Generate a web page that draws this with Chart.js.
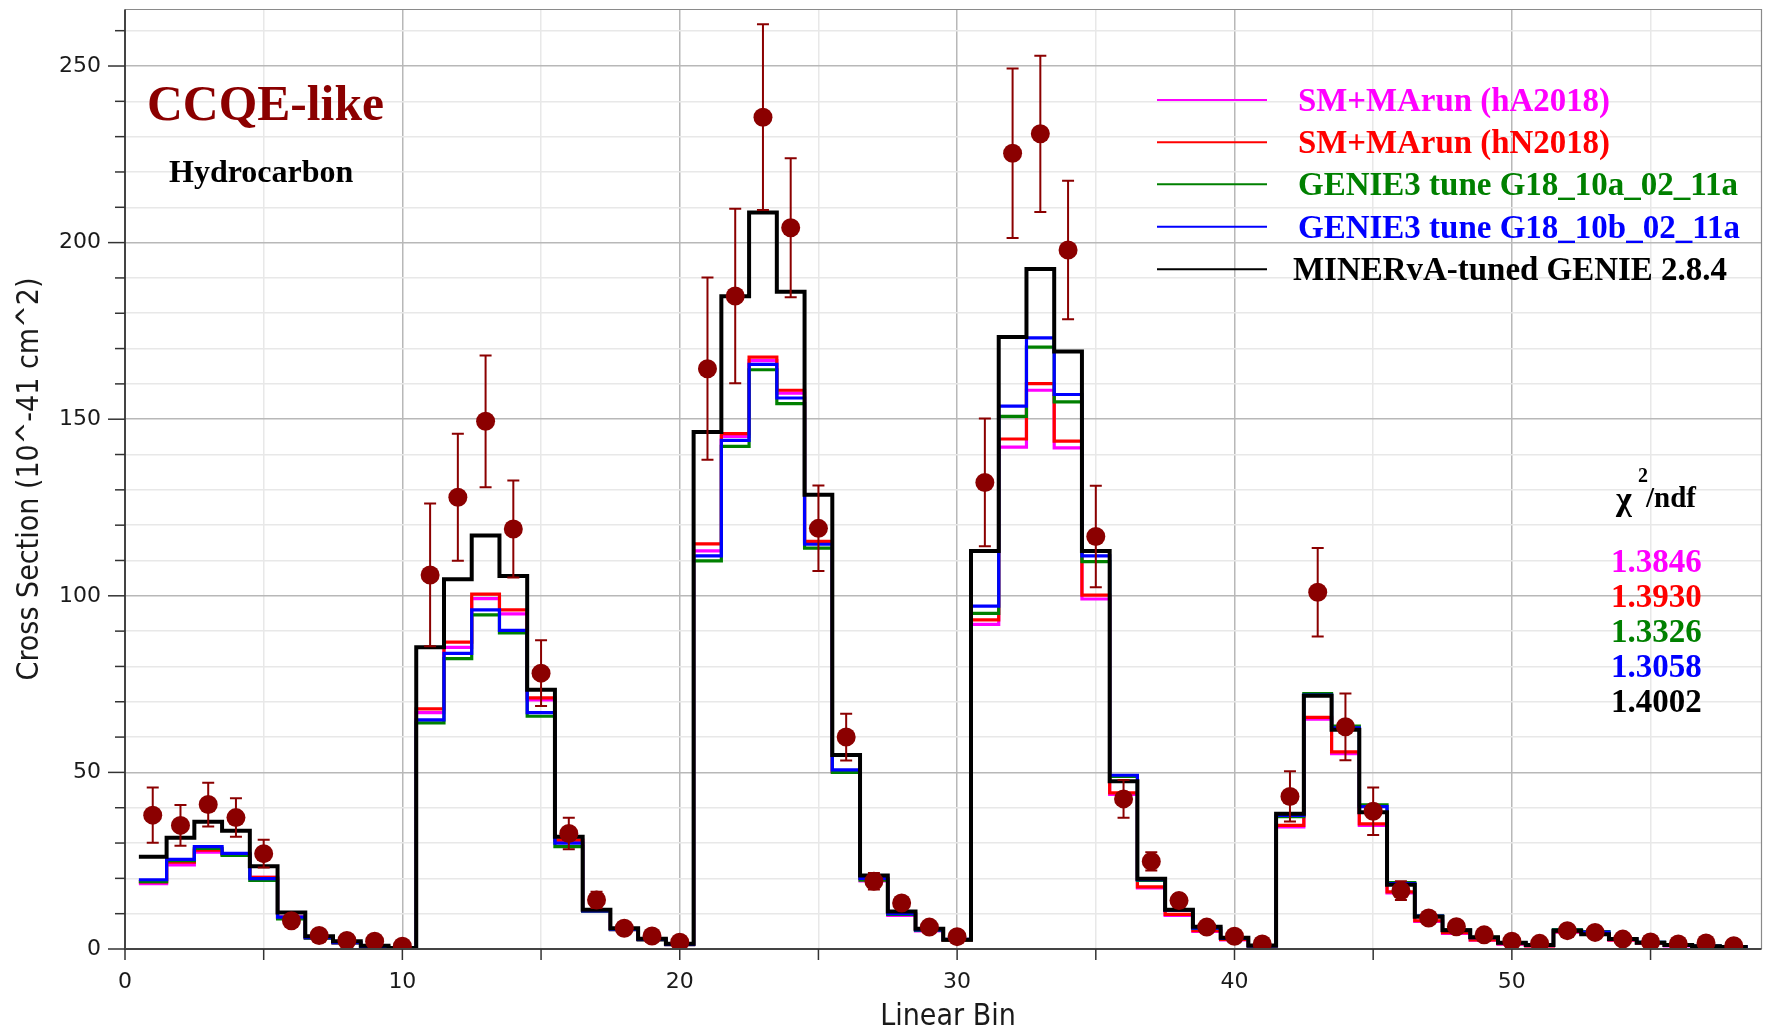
<!DOCTYPE html>
<html><head><meta charset="utf-8">
<script src="https://cdn.jsdelivr.net/npm/chart.js@4.4.0/dist/chart.umd.min.js"></script>
<style>html,body{margin:0;padding:0;background:#fff;}#wrap{width:1771px;height:1033px;position:relative;}</style>
</head><body><div id="wrap"><canvas id="c"></canvas></div>
<script>
// ---------------- DATA ----------------
const bins = [1,2,3,4,5,6,7,8,9,10,11,12,13,14,15,16,17,18,19,20,21,22,23,24,25,26,27,28,29,30,31,32,33,34,35,36,37,38,39,40,41,42,43,44,45,46,47,48,49,50,51,52,53,54,55,56,57,58];
const dataValues = [37.9,35.0,40.9,37.2,27.0,8.0,3.8,2.4,2.2,0.8,
  105.9,127.9,149.4,118.9,78.1,32.7,13.9,5.9,3.7,1.9,
  164.3,184.9,235.5,204.2,119.1,60.0,19.2,13.0,6.2,3.5,
  132.1,225.3,230.8,197.9,116.8,42.5,24.8,13.7,6.2,3.6,
  1.4,43.2,101.0,62.9,39.0,16.5,8.8,6.3,4.0,2.2,
  1.6,5.2,4.7,2.8,2.0,1.4,1.7,0.9];
const dataErrors = [7.8,5.75,6.2,5.45,3.9,1.5,0.8,0.6,0.5,0.3,
  20.2,18.0,18.65,13.75,9.3,4.45,2.3,1.0,0.7,0.5,
  25.8,24.7,26.3,19.7,12.1,6.6,2.35,1.5,1.0,0.7,
  18.1,24.0,22.1,19.6,14.35,5.35,2.6,1.8,1.0,0.7,
  0.4,7.1,12.55,9.45,6.7,2.65,1.5,1.0,0.8,0.5,
  0.4,0.8,0.7,0.5,0.4,0.3,0.3,0.2];
const smHA2018 = [18.5,23.8,27.4,26.8,20.3,9.0,3.1,1.7,0.6,0.1,
  66.9,85.4,99.2,94.9,70.5,30.8,10.7,5.5,2.6,1.2,
  112.7,145.1,166.6,157.4,115.0,50.2,19.3,9.5,5.1,2.5,
  91.9,142.1,158.2,141.9,99.1,43.8,17.3,9.5,5.0,2.6,
  0.8,34.6,65.1,55.3,35.0,15.9,7.8,4.4,2.5,1.4,
  0.9,4.8,4.3,2.5,1.6,0.9,0.7,0.5];
const smHN2018 = [19.0,24.6,28.0,26.9,20.3,9.0,3.2,1.8,0.7,0.1,
  68.0,86.9,100.5,96.0,71.1,30.8,10.8,5.6,2.7,1.3,
  114.7,145.9,167.6,158.2,115.4,50.3,20.0,10.0,5.3,2.6,
  93.2,144.4,160.1,143.8,100.2,44.2,17.6,9.8,5.2,2.7,
  0.8,35.0,65.6,55.8,35.4,16.2,8.0,4.6,2.6,1.5,
  0.9,4.9,4.4,2.6,1.7,1.0,0.7,0.5];
const g18_10a = [19.1,25.0,28.5,26.5,19.4,8.5,3.1,1.7,0.6,0.1,
  64.0,82.2,94.6,89.5,65.9,29.0,10.7,5.5,2.6,1.2,
  109.9,142.3,164.0,154.4,113.5,50.0,19.5,9.8,5.3,2.6,
  95.0,150.8,170.4,154.9,109.7,48.9,19.4,11.0,5.8,3.0,
  0.9,37.5,72.3,63.1,40.8,18.8,9.4,5.4,3.3,1.8,
  1.1,5.5,4.9,2.9,1.9,1.1,0.8,0.6];
const g18_10b = [19.6,25.4,29.0,27.1,19.9,9.0,3.2,1.8,0.7,0.1,
  64.9,83.7,96.0,90.2,66.9,30.0,10.8,5.6,2.7,1.3,
  111.3,144.0,165.5,156.0,114.6,50.7,20.0,10.0,5.4,2.7,
  97.1,153.7,173.0,157.0,111.3,49.2,19.6,11.0,5.9,3.0,
  0.9,37.8,71.9,62.6,40.3,18.5,9.3,5.3,3.2,1.8,
  1.1,5.3,4.8,2.9,1.9,1.1,0.8,0.6];
const minervaGenie = [26.1,31.5,36.0,33.5,23.4,10.3,3.6,2.2,0.9,0.3,
  85.4,104.7,117.1,105.6,73.4,31.8,11.1,5.9,2.9,1.5,
  146.4,184.8,208.5,186.1,128.6,54.9,20.8,10.6,5.7,2.6,
  112.7,173.3,192.5,169.2,112.7,47.5,19.9,11.1,6.3,3.2,
  1.0,38.3,71.7,62.1,38.7,18.2,9.1,5.3,3.3,1.8,
  1.1,5.2,4.2,2.8,1.8,1.1,0.8,0.6];
const seriesNames = ['SM+MArun (hA2018)','SM+MArun (hN2018)','GENIE3 tune G18_10a_02_11a','GENIE3 tune G18_10b_02_11a','MINERvA-tuned GENIE 2.8.4'];
const chiValues = ['1.3846','1.3930','1.3326','1.3058','1.4002'];
const xTickLabels = [0,10,20,30,40,50];
const yTickLabels = [0,50,100,150,200,250];

// ---------------- STYLE ----------------
const colors = ['#ff00ff','#ff0000','#008000','#0000ff','#000000'];
const dataColor = '#8b0000';
const serif = "'Liberation Serif','Times New Roman',serif";
const condensed = "'DejaVu Sans Condensed','Liberation Sans Narrow','DejaVu Sans',sans-serif";

function toSteps(vals){
  const pts = bins.map((b,i)=>({x:b-0.5, y:vals[i]}));
  pts.push({x:bins[bins.length-1]+0.5, y:vals[vals.length-1]});
  return pts;
}
const series = [smHA2018, smHN2018, g18_10a, g18_10b, minervaGenie];
const histSets = [];
for (let k = series.length-1; k >= 0; k--) {
  histSets.push({
    type:'line', label:seriesNames[k], data:toSteps(series[k]), stepped:'before',
    borderColor:colors[k], borderWidth:(k===4?4:3.2), pointRadius:0, fill:false,
    borderJoinStyle:'miter', borderCapStyle:'butt', tension:0
  });
}
const pointSet = {
  type:'scatter', label:'Data', data:bins.map((b,i)=>({x:b, y:dataValues[i]})),
  backgroundColor:dataColor, borderColor:dataColor, pointRadius:9.5, borderWidth:0
};

const deco = {
  id:'deco',
  beforeDatasetDraw(chart, args){
    if (args.index !== 0) return;
    const {ctx, scales:{x,y}} = chart;
    ctx.save();
    ctx.strokeStyle = dataColor; ctx.lineWidth = 2;
    bins.forEach((b,i)=>{
      const px = x.getPixelForValue(b);
      const y1 = y.getPixelForValue(dataValues[i]-dataErrors[i]);
      const y2 = y.getPixelForValue(dataValues[i]+dataErrors[i]);
      ctx.beginPath();
      ctx.moveTo(px,y1); ctx.lineTo(px,y2);
      ctx.moveTo(px-6,y1); ctx.lineTo(px+6,y1);
      ctx.moveTo(px-6,y2); ctx.lineTo(px+6,y2);
      ctx.stroke();
    });
    ctx.restore();
  },
  afterDraw(chart){
    const {ctx, chartArea:a, scales:{x,y}} = chart;
    ctx.save();
    ctx.strokeStyle = '#8a8a8a'; ctx.lineWidth = 1.2;
    ctx.beginPath(); ctx.moveTo(a.left,a.top); ctx.lineTo(a.right,a.top); ctx.lineTo(a.right,a.bottom); ctx.stroke();
    ctx.strokeStyle = '#444'; ctx.lineWidth = 2;
    ctx.beginPath(); ctx.moveTo(a.left,a.top); ctx.lineTo(a.left,a.bottom); ctx.lineTo(a.right,a.bottom); ctx.stroke();
    ctx.strokeStyle = '#333'; ctx.lineWidth = 1.5;
    y.ticks.forEach(t=>{
      const py = y.getPixelForValue(t.value);
      const len = yTickLabels.includes(t.value) ? 17 : 10;
      ctx.beginPath(); ctx.moveTo(a.left-len,py); ctx.lineTo(a.left,py); ctx.stroke();
    });
    x.ticks.forEach(t=>{
      const px = x.getPixelForValue(t.value);
      ctx.beginPath(); ctx.moveTo(px,a.bottom); ctx.lineTo(px,a.bottom+11); ctx.stroke();
    });
    ctx.fillStyle = '#1a1a1a';
    ctx.font = "30px " + condensed;
    ctx.textAlign = 'center'; ctx.textBaseline = 'middle';
    ctx.fillText('Linear Bin', 948, 1017);
    ctx.save(); ctx.translate(30, 479); ctx.rotate(-Math.PI/2);
    ctx.fillText('Cross Section (10^-41 cm^2)', 0, 0);
    ctx.restore();
    ctx.textAlign = 'left'; ctx.textBaseline = 'alphabetic';
    ctx.fillStyle = dataColor; ctx.font = "bold 51px " + serif;
    ctx.fillText('CCQE-like', 147, 120, 237);
    ctx.fillStyle = '#000'; ctx.font = "bold 32px " + serif;
    ctx.fillText('Hydrocarbon', 169, 182, 192);
    const legY = [100, 142.3, 184.3, 226.7, 269.3];
    const legW = [312, 312, 440, 442, 434];
    seriesNames.forEach((n,k)=>{
      ctx.strokeStyle = colors[k]; ctx.lineWidth = 2;
      ctx.beginPath(); ctx.moveTo(1157, legY[k]); ctx.lineTo(1267, legY[k]); ctx.stroke();
      ctx.fillStyle = colors[k]; ctx.font = "bold 33px " + serif;
      ctx.fillText(n, k===4?1293:1298, legY[k]+11, legW[k]);
    });
    ctx.fillStyle = '#000';
    ctx.font = "bold 34px " + serif; ctx.fillText('\u03c7', 1616, 510);
    ctx.font = "bold 20px " + serif; ctx.fillText('2', 1638, 482);
    ctx.font = "bold 29px " + serif; ctx.fillText('/ndf', 1646, 507);
    const chiY = [572, 607, 642, 677, 712];
    chiValues.forEach((v,k)=>{
      ctx.fillStyle = colors[k]; ctx.font = "bold 33px " + serif;
      ctx.fillText(v, 1611, chiY[k], 92);
    });
    ctx.restore();
  }
};

new Chart(document.getElementById('c'), {
  data:{ datasets:[pointSet, ...histSets] },
  options:{
    responsive:true, maintainAspectRatio:false, animation:false, devicePixelRatio:1,
    layout:{ padding:{ top:9, right:3, left:0, bottom:0 } },
    plugins:{ legend:{display:false}, tooltip:{enabled:false} },
    scales:{
      x:{ type:'linear', min:0, max:59,
        afterFit(s){ s.height = 84; s.paddingLeft = 0; s.paddingRight = 0; },
        ticks:{ stepSize:5, includeBounds:false, autoSkip:false, maxRotation:0, padding:20,
          color:'#1a1a1a', font:{family:"'DejaVu Sans',sans-serif", size:22},
          callback:(v)=> xTickLabels.includes(v) ? String(v) : '' },
        grid:{ drawTicks:false, lineWidth:1.5,
          color:(c)=> (c.tick && c.tick.value % 10 === 0) ? '#b8b8b8' : '#e8e8e8' },
        border:{ display:false }
      },
      y:{ type:'linear', min:0, max:266,
        afterFit(s){ s.width = 125; s.paddingTop = 0; s.paddingBottom = 0; },
        ticks:{ stepSize:10, includeBounds:false, autoSkip:false, padding:24,
          color:'#1a1a1a', font:{family:"'DejaVu Sans',sans-serif", size:22},
          callback:(v)=> yTickLabels.includes(v) ? String(v) : '' },
        grid:{ drawTicks:false, lineWidth:1.5,
          color:(c)=> (c.tick && yTickLabels.includes(c.tick.value)) ? '#b8b8b8' : '#e8e8e8' },
        border:{ display:false }
      }
    }
  },
  plugins:[deco]
});
</script></body></html>
